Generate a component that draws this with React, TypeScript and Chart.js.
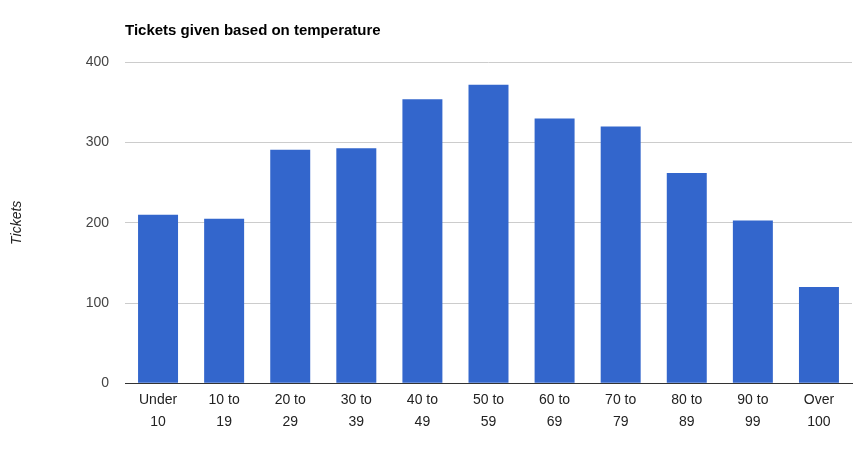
import React, { useEffect, useRef } from "react";
import { Chart, registerables } from "chart.js";

Chart.register(...registerables);

const chartTitle = "Tickets given based on temperature";
const yAxisTitle = "Tickets";
const categories: string[][] = [
  ["Under", "10"],
  ["10 to", "19"],
  ["20 to", "29"],
  ["30 to", "39"],
  ["40 to", "49"],
  ["50 to", "59"],
  ["60 to", "69"],
  ["70 to", "79"],
  ["80 to", "89"],
  ["90 to", "99"],
  ["Over", "100"],
];
const tickets: number[] = [210, 205, 291, 293, 354, 372, 330, 320, 262, 203, 120];
const yMin = 0;
const yMax = 400;
const yStep = 100;

const FONT = "Arial, 'Liberation Sans', sans-serif";

export default function App() {
  const ref = useRef<HTMLCanvasElement | null>(null);

  useEffect(() => {
    if (!ref.current) return;
    const chart = new Chart(ref.current, {
      type: "bar",
      data: {
        labels: categories,
        datasets: [
          {
            label: yAxisTitle,
            data: tickets,
            backgroundColor: "#3366cc",
            borderWidth: 0,
            categoryPercentage: 1,
            barPercentage: 0.605,
          },
        ],
      },
      options: {
        responsive: false,
        animation: false,
        devicePixelRatio: 1,
        layout: { padding: { top: 0, left: 0, right: 13, bottom: 0 } },
        plugins: {
          legend: { display: false },
          tooltip: { enabled: false },
          title: {
            display: true,
            text: chartTitle,
            align: "start",
            fullSize: false,
            color: "#000",
            font: { family: FONT, size: 15, weight: "bold", lineHeight: 1.2 },
            padding: { top: 22, bottom: 22.3 },
          },
        },
        scales: {
          x: {
            grid: { display: false, drawTicks: false },
            border: { display: true, color: "#333", width: 1 },
            ticks: {
              color: "#222",
              font: { family: FONT, size: 14, lineHeight: 22 / 14 },
              padding: 6,
              maxRotation: 0,
              autoSkip: false,
            },
            afterFit: (scale: any) => {
              scale.height = 92.7;
            },
          },
          y: {
            min: yMin,
            max: yMax,
            border: { display: false },
            grid: {
              drawTicks: false,
              color: (c: any) => (c.tick && c.tick.value === 0 ? "rgba(0,0,0,0)" : "#cccccc"),
              lineWidth: 1,
            },
            ticks: {
              stepSize: yStep,
              color: "#444",
              padding: 16,
              font: { family: FONT, size: 14 },
            },
            title: {
              display: true,
              text: yAxisTitle,
              color: "#222",
              font: { family: FONT, size: 14, style: "italic", lineHeight: 1.2 },
              padding: { top: 8.6, bottom: 0 },
            },
            afterFit: (scale: any) => {
              scale.width = 125;
            },
          },
        },
      },
    });
    return () => chart.destroy();
  }, []);

  return (
    <div style={{ position: "fixed", left: 0, top: 0, width: 865, height: 476, background: "#fff" }}>
      <canvas ref={ref} width={865} height={476} />
    </div>
  );
}
